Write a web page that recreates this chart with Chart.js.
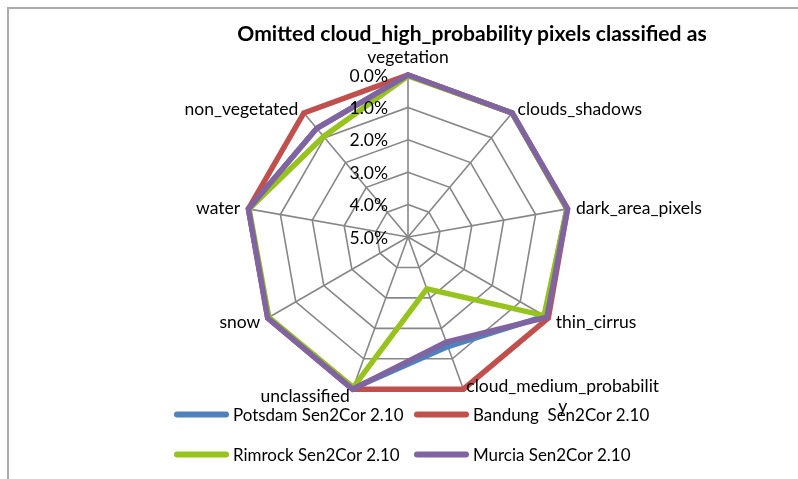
<!DOCTYPE html>
<html><head><meta charset="utf-8">
<script src="https://cdn.jsdelivr.net/npm/chart.js@4/dist/chart.umd.min.js"></script>
<style>
html,body{margin:0;padding:0;background:#fff;}
#wrap{position:relative;width:798px;height:479px;overflow:hidden;font-family:Lato,'Noto Sans',sans-serif;color:#000;background:#fff;}
#frame{position:absolute;left:7px;top:7px;width:830px;height:520px;border-left:2px solid #ABABAB;border-top:2px solid #ABABAB;box-sizing:border-box;}
canvas{position:absolute;left:0;top:0;}
#title{position:absolute;left:472px;top:32px;transform:translate(-50%,-50%);font-weight:bold;white-space:nowrap;}
.leg{position:absolute;display:flex;align-items:center;white-space:pre;transform:translateY(-50%);}
.sw{width:55px;height:6px;border-radius:3px;margin-right:4px;flex:none;}
</style></head>
<body><div id="wrap"><div id="frame"></div><canvas id="c" width="798" height="479"></canvas><div id="title"></div><div id="legend"></div></div>
<script>
// ---- data ----
const TITLE = 'Omitted cloud_high_probability pixels classified as';
const CATEGORIES = ['vegetation','clouds_shadows','dark_area_pixels','thin_cirrus','cloud_medium_probability','unclassified','snow','water','non_vegetated'];
const CATEGORY_LINES = [['vegetation'],['clouds_shadows'],['dark_area_pixels'],['thin_cirrus'],['cloud_medium_probabilit','y'],['unclassified'],['snow'],['water'],['non_vegetated']];
const SERIES_NAMES = ['Potsdam Sen2Cor 2.10','Bandung  Sen2Cor 2.10','Rimrock Sen2Cor 2.10','Murcia Sen2Cor 2.10'];
const POTSDAM = [0, 0, 0.02, 0.12, 1.40, 0.02, 0.02, 0, 0.62];
const BANDUNG = [0, 0, 0, 0, 0, 0, 0, 0, 0];
const RIMROCK = [0.03, 0, 0.02, 0.15, 3.30, 0.06, 0.04, 0.02, 0.95];
const MURCIA  = [0, 0, 0, 0.05, 1.55, 0, 0, 0, 0.62];
const TICK_VALUES = [0, 1, 2, 3, 4, 5];
const TICK_LABELS = ['0.0%','1.0%','2.0%','3.0%','4.0%','5.0%'];

// ---- styles ----
const COLORS = ['#4F81BD','#C0504D','#97C31E','#8064A2'];
const FONT = 'Lato';
const mc = document.createElement('canvas').getContext('2d');
function fitSize(texts, weight, target){
  mc.font = weight + ' 100px ' + FONT;
  const w = texts.reduce((s,t)=>s+mc.measureText(t).width,0);
  return 100*target/w;
}
const LABEL_SIZE = fitSize(['vegetation','non_vegetated','clouds_shadows','dark_area_pixels','thin_cirrus','cloud_medium_probabilit'],'normal',720);
const TITLE_SIZE = fitSize([TITLE],'bold',470);
const LEGEND_SIZE = fitSize(['Potsdam Sen2Cor 2.10'],'normal',171);

document.getElementById('title').textContent = TITLE;
document.getElementById('title').style.fontSize = TITLE_SIZE + 'px';
const legPos = [[174,414],[414,414],[174,454],[414,454]];
const legend = document.getElementById('legend');
SERIES_NAMES.forEach((n,i)=>{
  const d = document.createElement('div');
  d.className = 'leg';
  d.style.left = legPos[i][0] + 'px';
  d.style.top = legPos[i][1] + 'px';
  d.style.fontSize = LEGEND_SIZE + 'px';
  const sw = document.createElement('div');
  sw.className = 'sw'; sw.style.background = COLORS[i];
  const t = document.createElement('span'); t.textContent = n;
  d.appendChild(sw); d.appendChild(t); legend.appendChild(d);
});

const labelPlugin = {
  id: 'excelLabels',
  afterDraw(chart){
    const s = chart.scales.r, ctx = chart.ctx;
    ctx.save();
    ctx.fillStyle = '#000';
    ctx.font = LABEL_SIZE + 'px ' + FONT;
    ctx.textBaseline = 'middle';
    ctx.textAlign = 'right';
    TICK_VALUES.forEach((v,k)=>{
      const d = s.getDistanceFromCenterForValue(v);
      ctx.fillText(TICK_LABELS[k], s.xCenter - 20, s.yCenter - d + 1);
    });
    const lh = LABEL_SIZE * 1.12;
    CATEGORY_LINES.forEach((lines,i)=>{
      const a = s.getIndexAngle(i);
      const p = s.getPointPositionForValue(i, s.min);
      const sn = Math.sin(a), cs = Math.cos(a);
      const bw = Math.max(...lines.map(l=>ctx.measureText(l).width));
      let cx, cy;
      if (Math.abs(sn) < 0.01) { cx = p.x; cy = p.y + (cs > 0 ? -18 : 18); }
      else {
        const x = p.x + 8.5*sn;
        cx = sn > 0 ? x + bw/2 : x - bw/2;
        cy = p.y - 6.5*cs + 1;
      }
      ctx.textAlign = 'center';
      const y0 = cy - (lines.length-1)*lh/2;
      lines.forEach((l,j)=>ctx.fillText(l, cx, y0 + j*lh));
    });
    ctx.restore();
  }
};

const series = [POTSDAM, BANDUNG, RIMROCK, MURCIA];
new Chart(document.getElementById('c'), {
  type: 'radar',
  data: {
    labels: CATEGORIES,
    datasets: series.map((d,i)=>({
      label: SERIES_NAMES[i],
      data: d,
      borderColor: COLORS[i],
      backgroundColor: COLORS[i],
      borderWidth: 5.5,
      borderJoinStyle: 'miter',
      fill: false,
      pointRadius: 0,
      pointHoverRadius: 0,
      order: series.length - i
    }))
  },
  options: {
    responsive: false,
    animation: false,
    devicePixelRatio: 1,
    layout: { padding: { top: 75, bottom: 80, left: 18, right: 0 } },
    plugins: { legend: { display: false }, title: { display: false }, tooltip: { enabled: false } },
    scales: {
      r: {
        min: 0, max: 5, reverse: true,
        ticks: { stepSize: 1, display: false },
        pointLabels: { display: false },
        grid: { color: '#878787', lineWidth: 1.6 },
        angleLines: { color: '#878787', lineWidth: 1.6 }
      }
    }
  },
  plugins: [labelPlugin]
});
</script>
</body></html>
